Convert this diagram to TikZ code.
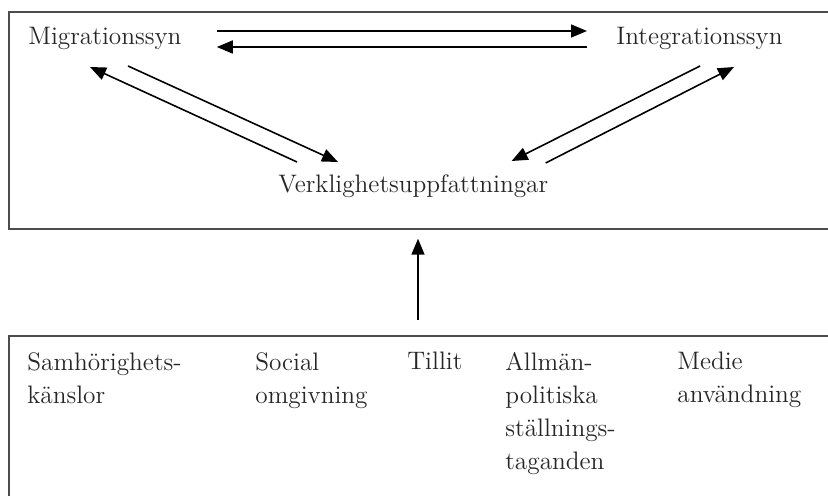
\documentclass[tikz,border=0pt]{standalone}
\usetikzlibrary{arrows.meta}
\tikzset{every node/.style={font=\fontsize{14.4}{18.8}\selectfont, inner sep=0pt, text=black!85},
  term/.style={anchor=base west},
  factor/.style={anchor=north west, align=left},
  panel/.style={draw=black!70, line width=1pt, anchor=north west, minimum width=18cm},
  link/.style={-{Triangle[length=0.32cm,width=0.26cm]}, line width=0.9pt, black}}

\begin{document}
\begin{tikzpicture}[x=0.02cm, y=-0.02cm]
  \clip (0,0) rectangle (828,496);
  \node[panel, minimum height=4.34cm] (upper) at (8,11) {};
  \node[panel, minimum height=4cm] (lower) at (8,335) {};
  \node[term] (mig)  at (28,45)   {Migrationssyn};
  \node[term] (int)  at (616,45)  {Integrationssyn};
  \node[term] (verk) at (278,193) {Verklighetsuppfattningar};
  \node[factor] (sam)  at (27,352)  {Samhörighets-\\känslor};
  \node[factor] (soc)  at (255,352) {Social\\omgivning};
  \node[factor] (till) at (407,352) {Tillit};
  \node[factor] (allm) at (505,352) {Allmän-\\politiska\\ställnings-\\taganden};
  \node[factor] (med)  at (677,352) {Medie\\användning};
  \draw[link] ([shift={(35,-14)}]mig.base east) -- ([shift={(-29,-14)}]int.base west);
  \draw[link] ([shift={(-29,2)}]int.base west) -- ([shift={(35,2)}]mig.base east);
  \draw[link] ([shift={(19,-31)}]verk.base west) -- ([shift={(62,22)}]mig.base west);
  \draw[link] ([shift={(100,21)}]mig.base west) -- ([shift={(60,-31)}]verk.base west);
  \draw[link] ([shift={(84,21)}]int.base west) -- ([shift={(-37,-32)}]verk.base east);
  \draw[link] ([shift={(-3,-30)}]verk.base east) -- ([shift={(118,22)}]int.base west);
  \draw[link] ([shift={(410,-15)}]lower.north west) -- ([shift={(410,9)}]upper.south west);
\end{tikzpicture}
\end{document}
